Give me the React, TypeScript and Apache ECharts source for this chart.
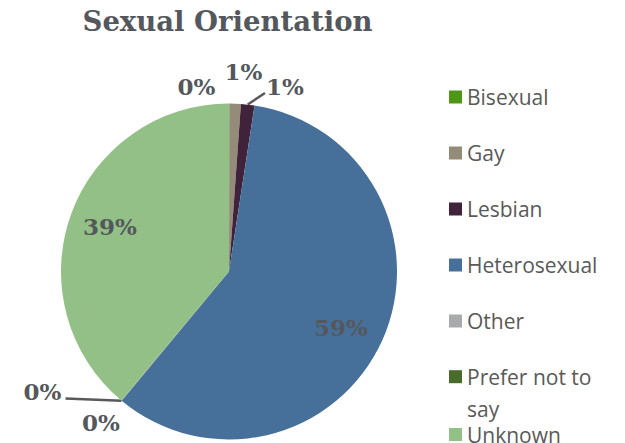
import React, { useEffect, useRef } from 'react';
import * as echarts from 'echarts';

// ---- data ----
const categories = ['Bisexual', 'Gay', 'Lesbian', 'Heterosexual', 'Other', 'Prefer not to say', 'Unknown'];
const shares = [0.03, 1.1, 1.3, 58.6, 0.03, 0.02, 38.92];
const sliceColors = ['#4e9616', '#948c78', '#40233a', '#46709a', '#a8aaab', '#4b6b2b', '#93c086'];
// the leading blank line keeps the first text line level with the legend swatch
const legendLabels: Record<string, string> = { 'Prefer not to say': '\nPrefer not to\nsay' };

// ---- label placement (px, label centres) ----
const LABEL_POS: number[][] = [
  [196.5, 86],
  [243.5, 71],
  [285, 86],
  [341, 327],
  [42.5, 391.5],
  [101, 422.5],
  [110, 226],
];
// leader line end, relative to label centre
const LABEL_LINE_END: Record<number, number[]> = { 2: [-20, 7], 4: [23, 7] };

const TEXT_GRAY = '#54585c';

export default function App() {
  const ref = useRef<HTMLDivElement>(null);

  useEffect(() => {
    if (!ref.current) return;
    const chart = echarts.init(ref.current, undefined, { renderer: 'svg' });

    const legendText = {
      fontFamily: 'Open Sans',
      fontSize: 21,
      lineHeight: 22,
      color: '#595959',
    };
    const legendBase = {
      orient: 'vertical',
      left: 449,
      height: 400,
      padding: 0,
      itemWidth: 13,
      itemHeight: 13,
      itemGap: 34,
      icon: 'rect',
      selectedMode: false,
      formatter: (name: string) => legendLabels[name] ?? name,
      textStyle: legendText,
    };

    chart.setOption({
      animation: false,
      backgroundColor: '#ffffff',
      graphic: [
        {
          type: 'text',
          x: 227.5,
          y: 20.5,
          style: {
            text: 'Sexual Orientation',
            align: 'center',
            verticalAlign: 'middle',
            fontFamily: 'DejaVu Serif',
            fontWeight: 'bold',
            fontSize: 27.5,
            fill: TEXT_GRAY,
          },
        },
      ],
      legend: [
        {
          ...legendBase,
          top: 86,
          data: categories.slice(0, 5),
        },
        {
          ...legendBase,
          top: 328.7,
          data: [{ name: categories[5], textStyle: { lineHeight: 32 } }],
        },
        {
          ...legendBase,
          top: 424,
          data: [{ name: categories[6], textStyle: { lineHeight: 18 } }],
        },
      ],
      series: [
        {
          type: 'pie',
          center: [229, 271.5],
          radius: 168,
          startAngle: 90,
          clockwise: true,
          avoidLabelOverlap: false,
          silent: true,
          emphasis: { disabled: true },
          data: categories.map((name, i) => ({
            name,
            value: shares[i],
            itemStyle: { color: sliceColors[i] },
            labelLine: { show: LABEL_LINE_END[i] != null },
          })),
          label: {
            show: true,
            position: 'outside',
            formatter: (p: any) => Math.round(p.percent) + '%',
            fontFamily: 'DejaVu Serif',
            fontWeight: 'bold',
            fontSize: 23,
            color: TEXT_GRAY,
          },
          labelLine: {
            length: 10,
            length2: 10,
            lineStyle: { color: '#595959', width: 2.5 },
          },
          labelLayout: (params: any) => {
            const i = params.dataIndex;
            const [x, y] = LABEL_POS[i];
            const res: any = { x, y, align: 'center', verticalAlign: 'middle' };
            const end = LABEL_LINE_END[i];
            if (end && params.labelLinePoints) {
              const p0 = params.labelLinePoints[0];
              const p1 = [x + end[0], y + end[1]];
              res.labelLinePoints = [p0, p1, p1];
            }
            return res;
          },
        },
      ],
    });

    return () => chart.dispose();
  }, []);

  return (
    <div
      ref={ref}
      style={{ position: 'absolute', left: 0, top: 0, width: 625, height: 443, background: '#fff' }}
    />
  );
}
